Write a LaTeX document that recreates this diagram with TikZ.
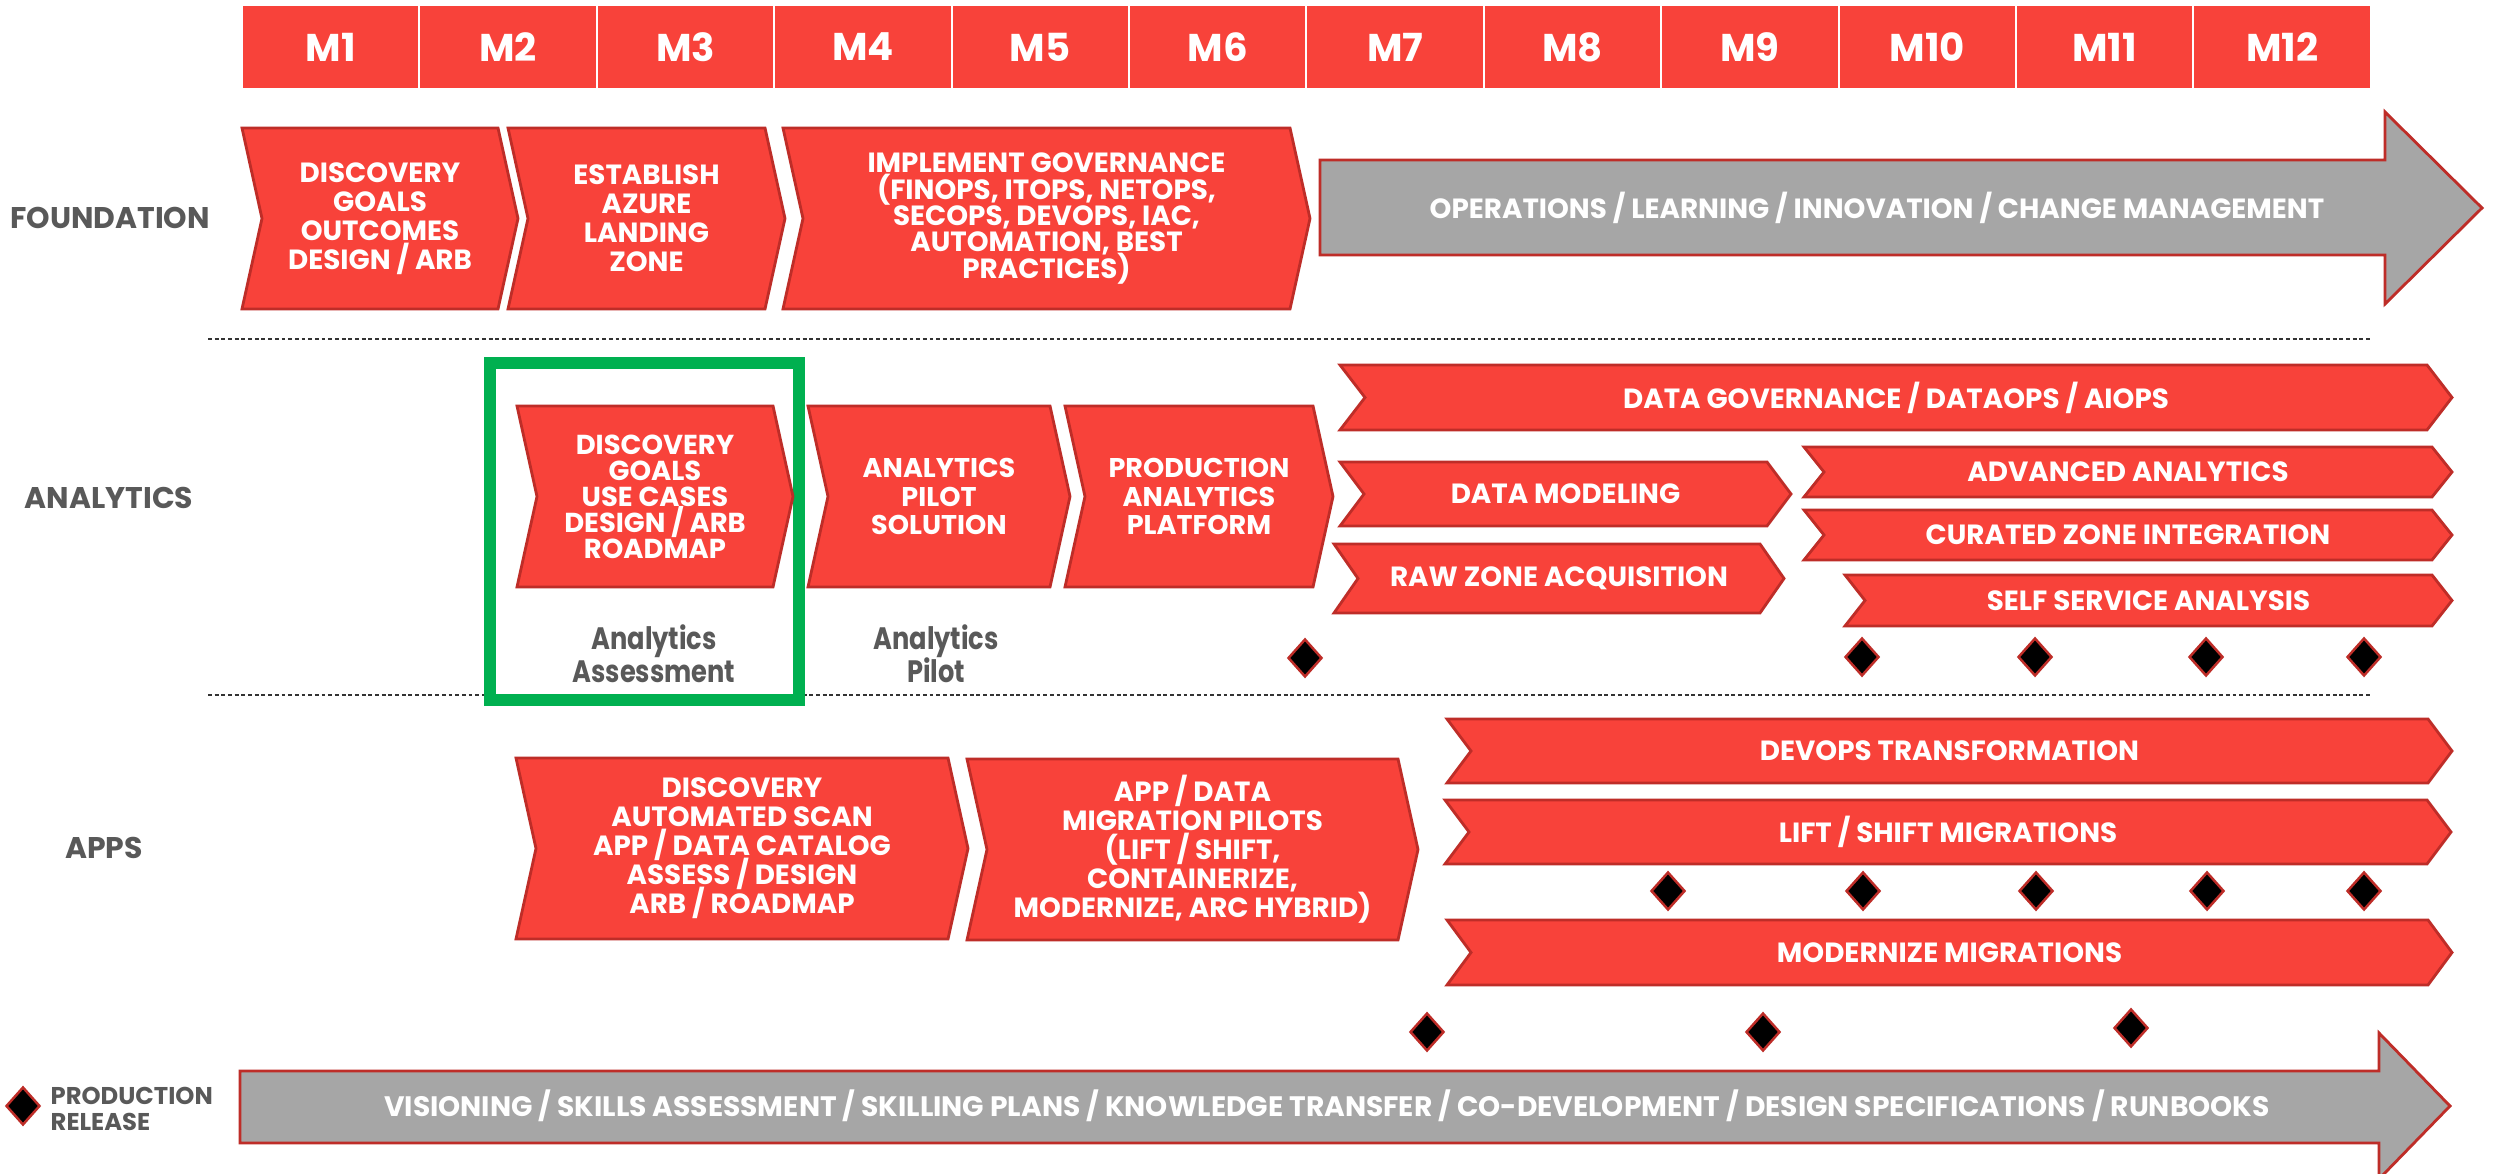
\documentclass[tikz,border=0pt]{standalone}
\usepackage{fontspec}
\setmainfont{Poppins}
\newfontfamily\narrowp{Poppins}[FakeStretch=0.83]
\usetikzlibrary{shapes.geometric}
\definecolor{rfill}{RGB}{248,66,58}
\definecolor{rstroke}{RGB}{190,45,40}
\definecolor{gfill}{RGB}{166,166,166}
\definecolor{lgray}{RGB}{89,89,89}
\definecolor{gbox}{RGB}{0,176,80}
\newcommand\myfs[2]{\fontsize{#1}{#2}\selectfont\lineskiplimit=-20pt\lineskip=0pt}
\newcommand\chev[8][]{%
  \draw[chevbox] (#3,#5) -- (#4,#5) -- ({#4+#7},{(#5+#6)/2}) -- (#4,#6) -- (#3,#6) -- ({#3+#7},{(#5+#6)/2}) -- cycle;
  \node[chevtext,#1] (#2) at ({(#3+#4+#7)/2},{(#5+#6)/2}) {#8};
}
\begin{document}
\begin{tikzpicture}[x=0.01cm,y=-0.01cm,
  chevbox/.style={fill=rfill,draw=rstroke,line width=0.8pt,line join=miter},
  chevtext/.style={text=white,font=\bfseries\myfs{7.9}{8.2},align=center,inner sep=0pt},
  month/.style={fill=rfill,draw=white,line width=0.6pt,minimum width=1.774cm,minimum height=0.84cm,inner sep=0pt,text=white,font=\bfseries\myfs{11}{12}},
  grayarr/.style={fill=gfill,draw=rstroke,line width=0.8pt,line join=miter},
  graytext/.style={text=white,font=\bfseries\myfs{7.9}{8},inner sep=0pt},
  rowlabel/.style={text=lgray,font=\bfseries\myfs{8.5}{9},inner sep=0pt},
  sublabel/.style={text=lgray,font=\narrowp\bfseries\myfs{8.8}{9.4},align=center,inner sep=0pt},
  dia/.style={diamond,fill=black,draw=rstroke,line width=0.7pt,minimum width=0.34cm,minimum height=0.38cm,inner sep=0pt},
  dline/.style={draw=black!80,line width=0.5pt,dash pattern=on 1.1pt off 0.8pt},
  greenbox/.style={draw=gbox,line width=3.4pt}]
\useasboundingbox[fill=white] (0,0) rectangle (2494,1174);
% header
\foreach \i in {1,...,12}
  \node[month] (m\i) at ({242+177.4*(\i-0.5)},47) {M\i};
% separators
\coordinate (s1a) at (208,339); \coordinate (s1b) at (2371,339);
\coordinate (s2a) at (208,695); \coordinate (s2b) at (2371,695);
\draw[dline] (s1a) -- (s1b);
\draw[dline] (s2a) -- (s2b);
% row labels
\node[rowlabel] (lf) at (110,218) {FOUNDATION};
\node[rowlabel] (la) at (109,498) {ANALYTICS};
\node[rowlabel] (lp) at (104,848) {APPS};
% foundation
\chev[font=\bfseries\myfs{7.9}{8.25}]{c1}{242}{498}{128}{309}{20}{DISCOVERY\\GOALS\\OUTCOMES\\DESIGN / ARB}
\chev[font=\bfseries\myfs{7.9}{8.25}]{c2}{508}{765}{128}{309}{20}{ESTABLISH\\AZURE\\LANDING\\ZONE}
\chev[font=\bfseries\myfs{7.9}{7.5}]{c3}{783}{1290}{128}{309}{20}{IMPLEMENT GOVERNANCE\\(FINOPS, ITOPS, NETOPS,\\SECOPS, DEVOPS, IAC,\\AUTOMATION, BEST\\PRACTICES)}
\draw[grayarr] (1320,160) -- (2385,160) -- (2385,112) -- (2482,208) -- (2385,304) -- (2385,255) -- (1320,255) -- cycle;
\node[graytext] (ops) at (1877,208) {OPERATIONS / LEARNING / INNOVATION / CHANGE MANAGEMENT};
% analytics
\draw[greenbox] (490,363) rectangle (799,700);
\chev[font=\bfseries\myfs{7.8}{7.4}]{a1}{517}{773}{406}{587}{20}{DISCOVERY\\GOALS\\USE CASES\\DESIGN / ARB\\ROADMAP}
\chev[font=\bfseries\myfs{7.7}{8.1}]{a2}{808}{1050}{406}{587}{20}{ANALYTICS\\PILOT\\SOLUTION}
\chev[font=\bfseries\myfs{7.7}{8.1}]{a3}{1065}{1313}{406}{587}{20}{PRODUCTION\\ANALYTICS\\PLATFORM}
\chev{dg}{1340}{2427}{365}{430}{25}{DATA GOVERNANCE / DATAOPS / AIOPS}
\chev{dm}{1340}{1767}{462}{526}{24}{DATA MODELING}
\chev{rz}{1334}{1760}{544}{613}{24}{RAW ZONE ACQUISITION}
\chev{aa}{1804}{2432}{447}{497}{20}{ADVANCED ANALYTICS}
\chev{cz}{1804}{2432}{510}{560}{20}{CURATED ZONE INTEGRATION}
\chev{ss}{1845}{2432}{575}{626}{20}{SELF SERVICE ANALYSIS}
\node[sublabel] (las) at (654,654) {Analytics\\Assessment};
\node[sublabel] (lap) at (936,654) {Analytics\\Pilot};
\node[dia] (da1) at (1305,658) {};
\node[dia] (da2) at (1862,657) {};
\node[dia] (da3) at (2035,657) {};
\node[dia] (da4) at (2206,657) {};
\node[dia] (da5) at (2364,657) {};
% apps
\chev[font=\bfseries\myfs{7.9}{8.25}]{p1}{516}{948}{758}{939}{20}{DISCOVERY\\AUTOMATED SCAN\\APP / DATA CATALOG\\ASSESS / DESIGN\\ARB / ROADMAP}
\chev[font=\bfseries\myfs{7.9}{8.25}]{p2}{967}{1398}{759}{940}{20}{APP / DATA\\MIGRATION PILOTS\\(LIFT / SHIFT,\\CONTAINERIZE,\\MODERNIZE, ARC HYBRID)}
\chev{dt}{1447}{2428}{719}{783}{24}{DEVOPS TRANSFORMATION}
\chev{ls}{1445}{2427}{800}{864}{24}{LIFT / SHIFT MIGRATIONS}
\chev{mm}{1447}{2428}{920}{985}{24}{MODERNIZE MIGRATIONS}
\node[dia] (dp1) at (1668,891) {};
\node[dia] (dp2) at (1863,891) {};
\node[dia] (dp3) at (2036,891) {};
\node[dia] (dp4) at (2207,891) {};
\node[dia] (dp5) at (2364,891) {};
\node[dia] (dl1) at (1427,1032) {};
\node[dia] (dl2) at (1763,1032) {};
\node[dia] (dl3) at (2131,1028) {};
% bottom
\draw[grayarr] (240,1071) -- (2379,1071) -- (2379,1033) -- (2450,1106) -- (2379,1179) -- (2379,1143) -- (240,1143) -- cycle;
\node[graytext,font=\bfseries\myfs{8}{8}] (vis) at (1327,1106) {VISIONING / SKILLS ASSESSMENT / SKILLING PLANS / KNOWLEDGE TRANSFER / CO-DEVELOPMENT / DESIGN SPECIFICATIONS / RUNBOOKS};
% legend
\node[dia] (dleg) at (23,1106) {};
\node[text=lgray,font=\bfseries\myfs{6.9}{7.4},align=left,inner sep=0pt,anchor=west] (leg) at (50,1109) {PRODUCTION\\RELEASE};
\end{tikzpicture}
\end{document}
